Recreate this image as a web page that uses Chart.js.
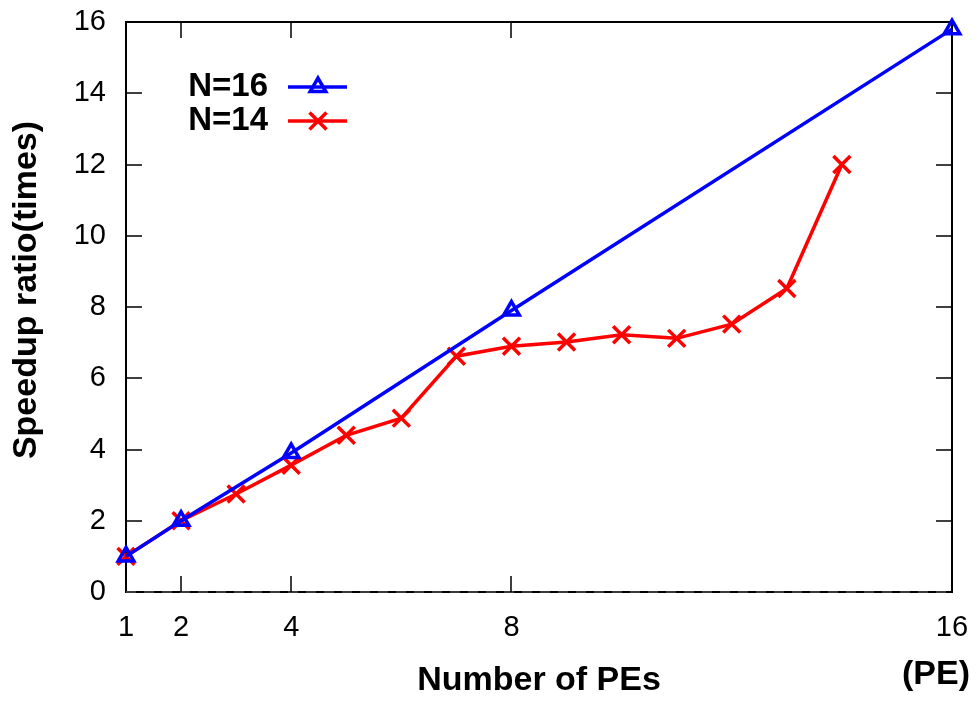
<!DOCTYPE html>
<html>
<head>
<meta charset="UTF-8"/>
<title>Speedup ratio</title>
<script src="https://cdn.jsdelivr.net/npm/chart.js@4.4.3/dist/chart.umd.min.js"></script>
<style>
  *{box-sizing:border-box;margin:0;padding:0}
  html,body{background:#fff;width:978px;height:702px;overflow:hidden}
  #wrap{position:relative;width:978px;height:702px}
</style>
</head>
<body>
<div id="wrap"><canvas id="speedup" width="978" height="702"></canvas></div>
<script>
// ─── Data ─────────────────────────────────────────────────────────────────────
const peN16      = [1, 2, 4, 8, 16];
const speedupN16 = [1, 2, 3.9, 7.9, 15.8];

const peN14      = [1, 2, 3, 4, 5, 6, 7, 8, 9, 10, 11, 12, 13, 14];
const speedupN14 = [1, 2, 2.75, 3.56, 4.4, 4.88, 6.62, 6.9, 7.02, 7.22, 7.12, 7.52, 8.52, 12];

const xTicks = [1, 2, 4, 8, 16];
const yTicks = [0, 2, 4, 6, 8, 10, 12, 14, 16];

const seriesLabels = ['N=16', 'N=14'];
const xTitle = 'Number of PEs';
const xUnit  = '(PE)';
const yTitle = 'Speedup ratio(times)';

// ─── Style ────────────────────────────────────────────────────────────────────
const FONT  = "'Liberation Sans', Arial, Helvetica, sans-serif";
const BLUE  = '#0000ff';
const RED   = '#ff0000';
const TICK_LEN = 16;

const pts = (xs, ys) => xs.map((x, i) => ({ x, y: ys[i] }));

// keep the plot box fixed: no extra room for overhanging tick labels
const noPad = s => { s.paddingLeft = s.paddingRight = s.paddingTop = s.paddingBottom = 0; };

// frame + inward tick marks (gnuplot look)
const framePlugin = {
  id: 'frame',
  beforeDatasetsDraw(chart) {
    const { ctx, chartArea: a, scales } = chart;
    ctx.save();
    ctx.strokeStyle = '#000';
    ctx.lineWidth = 2;
    ctx.strokeRect(a.left, a.top, a.right - a.left, a.bottom - a.top);

    // zero line runs dashed over the bottom edge
    ctx.strokeStyle = '#3a3a3a';
    ctx.setLineDash([10, 8]);
    ctx.beginPath();
    ctx.moveTo(a.left, a.bottom); ctx.lineTo(a.right, a.bottom);
    ctx.stroke();
    ctx.setLineDash([]);

    ctx.strokeStyle = '#000';
    ctx.lineWidth = 1.5;
    ctx.beginPath();
    yTicks.slice(1, -1).forEach(v => {
      const y = Math.round(scales.y.getPixelForValue(v));
      ctx.moveTo(a.left, y);  ctx.lineTo(a.left + TICK_LEN, y);
      ctx.moveTo(a.right, y); ctx.lineTo(a.right - TICK_LEN, y);
    });
    xTicks.slice(1, -1).forEach(v => {
      const x = Math.round(scales.x.getPixelForValue(v));
      ctx.moveTo(x, a.bottom); ctx.lineTo(x, a.bottom - TICK_LEN);
      ctx.moveTo(x, a.top);    ctx.lineTo(x, a.top + TICK_LEN);
    });
    ctx.stroke();
    ctx.restore();
  }
};

function drawTriangle(ctx, x, y, r) {
  ctx.beginPath();
  for (let k = 0; k < 3; k++) {
    const ang = k * 2 * Math.PI / 3;
    const px = x + Math.sin(ang) * r, py = y - Math.cos(ang) * r;
    k ? ctx.lineTo(px, py) : ctx.moveTo(px, py);
  }
  ctx.closePath();
  ctx.stroke();
}

function drawCross(ctx, x, y, r) {
  const d = r * Math.SQRT1_2;
  ctx.beginPath();
  ctx.moveTo(x - d, y - d); ctx.lineTo(x + d, y + d);
  ctx.moveTo(x - d, y + d); ctx.lineTo(x + d, y - d);
  ctx.stroke();
}

// titles and key
const textPlugin = {
  id: 'texts',
  afterDraw(chart) {
    const { ctx, chartArea: a } = chart;
    ctx.save();
    ctx.fillStyle = '#000';
    ctx.font = `bold 34px ${FONT}`;
    ctx.textBaseline = 'middle';

    ctx.textAlign = 'center';
    ctx.fillText(xTitle, (a.left + a.right) / 2, 681);
    ctx.fillText(xUnit, 936, 675);

    ctx.save();
    ctx.translate(27, 290);
    ctx.rotate(-Math.PI / 2);
    ctx.fillText(yTitle, 0, 0);
    ctx.restore();

    // key, top-left inside the frame
    const rows = [
      { label: seriesLabels[0], color: BLUE, y: 87,  mark: drawTriangle, r: 9 },
      { label: seriesLabels[1], color: RED,  y: 121, mark: drawCross,    r: 12 }
    ];
    rows.forEach(row => {
      ctx.fillStyle = '#000';
      ctx.textAlign = 'right';
      ctx.font = `bold 33px ${FONT}`;
      ctx.fillText(row.label, 268, row.y);
      ctx.strokeStyle = row.color;
      ctx.lineWidth = 3.5;
      ctx.beginPath();
      ctx.moveTo(288, row.y); ctx.lineTo(347, row.y);
      ctx.stroke();
      row.mark(ctx, 318, row.y, row.r);
    });
    ctx.restore();
  }
};

new Chart(document.getElementById('speedup'), {
  type: 'line',
  data: {
    datasets: [
      {
        label: seriesLabels[0],
        data: pts(peN16, speedupN16),
        borderColor: BLUE, backgroundColor: 'transparent',
        borderWidth: 3.5, tension: 0,
        pointStyle: 'triangle', pointRadius: 9,
        pointBorderColor: BLUE, pointBackgroundColor: 'transparent', pointBorderWidth: 3.5,
        clip: false
      },
      {
        label: seriesLabels[1],
        data: pts(peN14, speedupN14),
        borderColor: RED, backgroundColor: 'transparent',
        borderWidth: 3.5, tension: 0,
        pointStyle: 'crossRot', pointRadius: 12,
        pointBorderColor: RED, pointBorderWidth: 3.5,
        clip: false
      }
    ]
  },
  options: {
    responsive: false,
    animation: false,
    layout: { padding: 0 },
    plugins: { legend: { display: false }, tooltip: { enabled: false } },
    scales: {
      x: {
        type: 'linear', position: 'bottom', min: 1, max: 16,
        afterBuildTicks: s => { s.ticks = xTicks.map(v => ({ value: v })); },
        afterFit: s => { s.height = 110; noPad(s); },
        grid: { display: false, drawTicks: false },
        border: { display: false },
        ticks: { color: '#000', padding: 19, maxRotation: 0, font: { family: FONT, size: 29 } }
      },
      xTop: {
        type: 'linear', position: 'top', min: 1, max: 16,
        afterFit: s => { s.height = 22; noPad(s); },
        grid: { display: false, drawTicks: false },
        border: { display: false },
        ticks: { display: false }
      },
      y: {
        type: 'linear', position: 'left', min: 0, max: 16,
        afterBuildTicks: s => { s.ticks = yTicks.map(v => ({ value: v })); },
        afterFit: s => { s.width = 126; noPad(s); },
        grid: { display: false, drawTicks: false },
        border: { display: false },
        ticks: { color: '#000', padding: 20, font: { family: FONT, size: 29 } }
      },
      yRight: {
        type: 'linear', position: 'right', min: 0, max: 16,
        afterFit: s => { s.width = 26; noPad(s); },
        grid: { display: false, drawTicks: false },
        border: { display: false },
        ticks: { display: false }
      }
    }
  },
  plugins: [framePlugin, textPlugin]
});
</script>
</body>
</html>
